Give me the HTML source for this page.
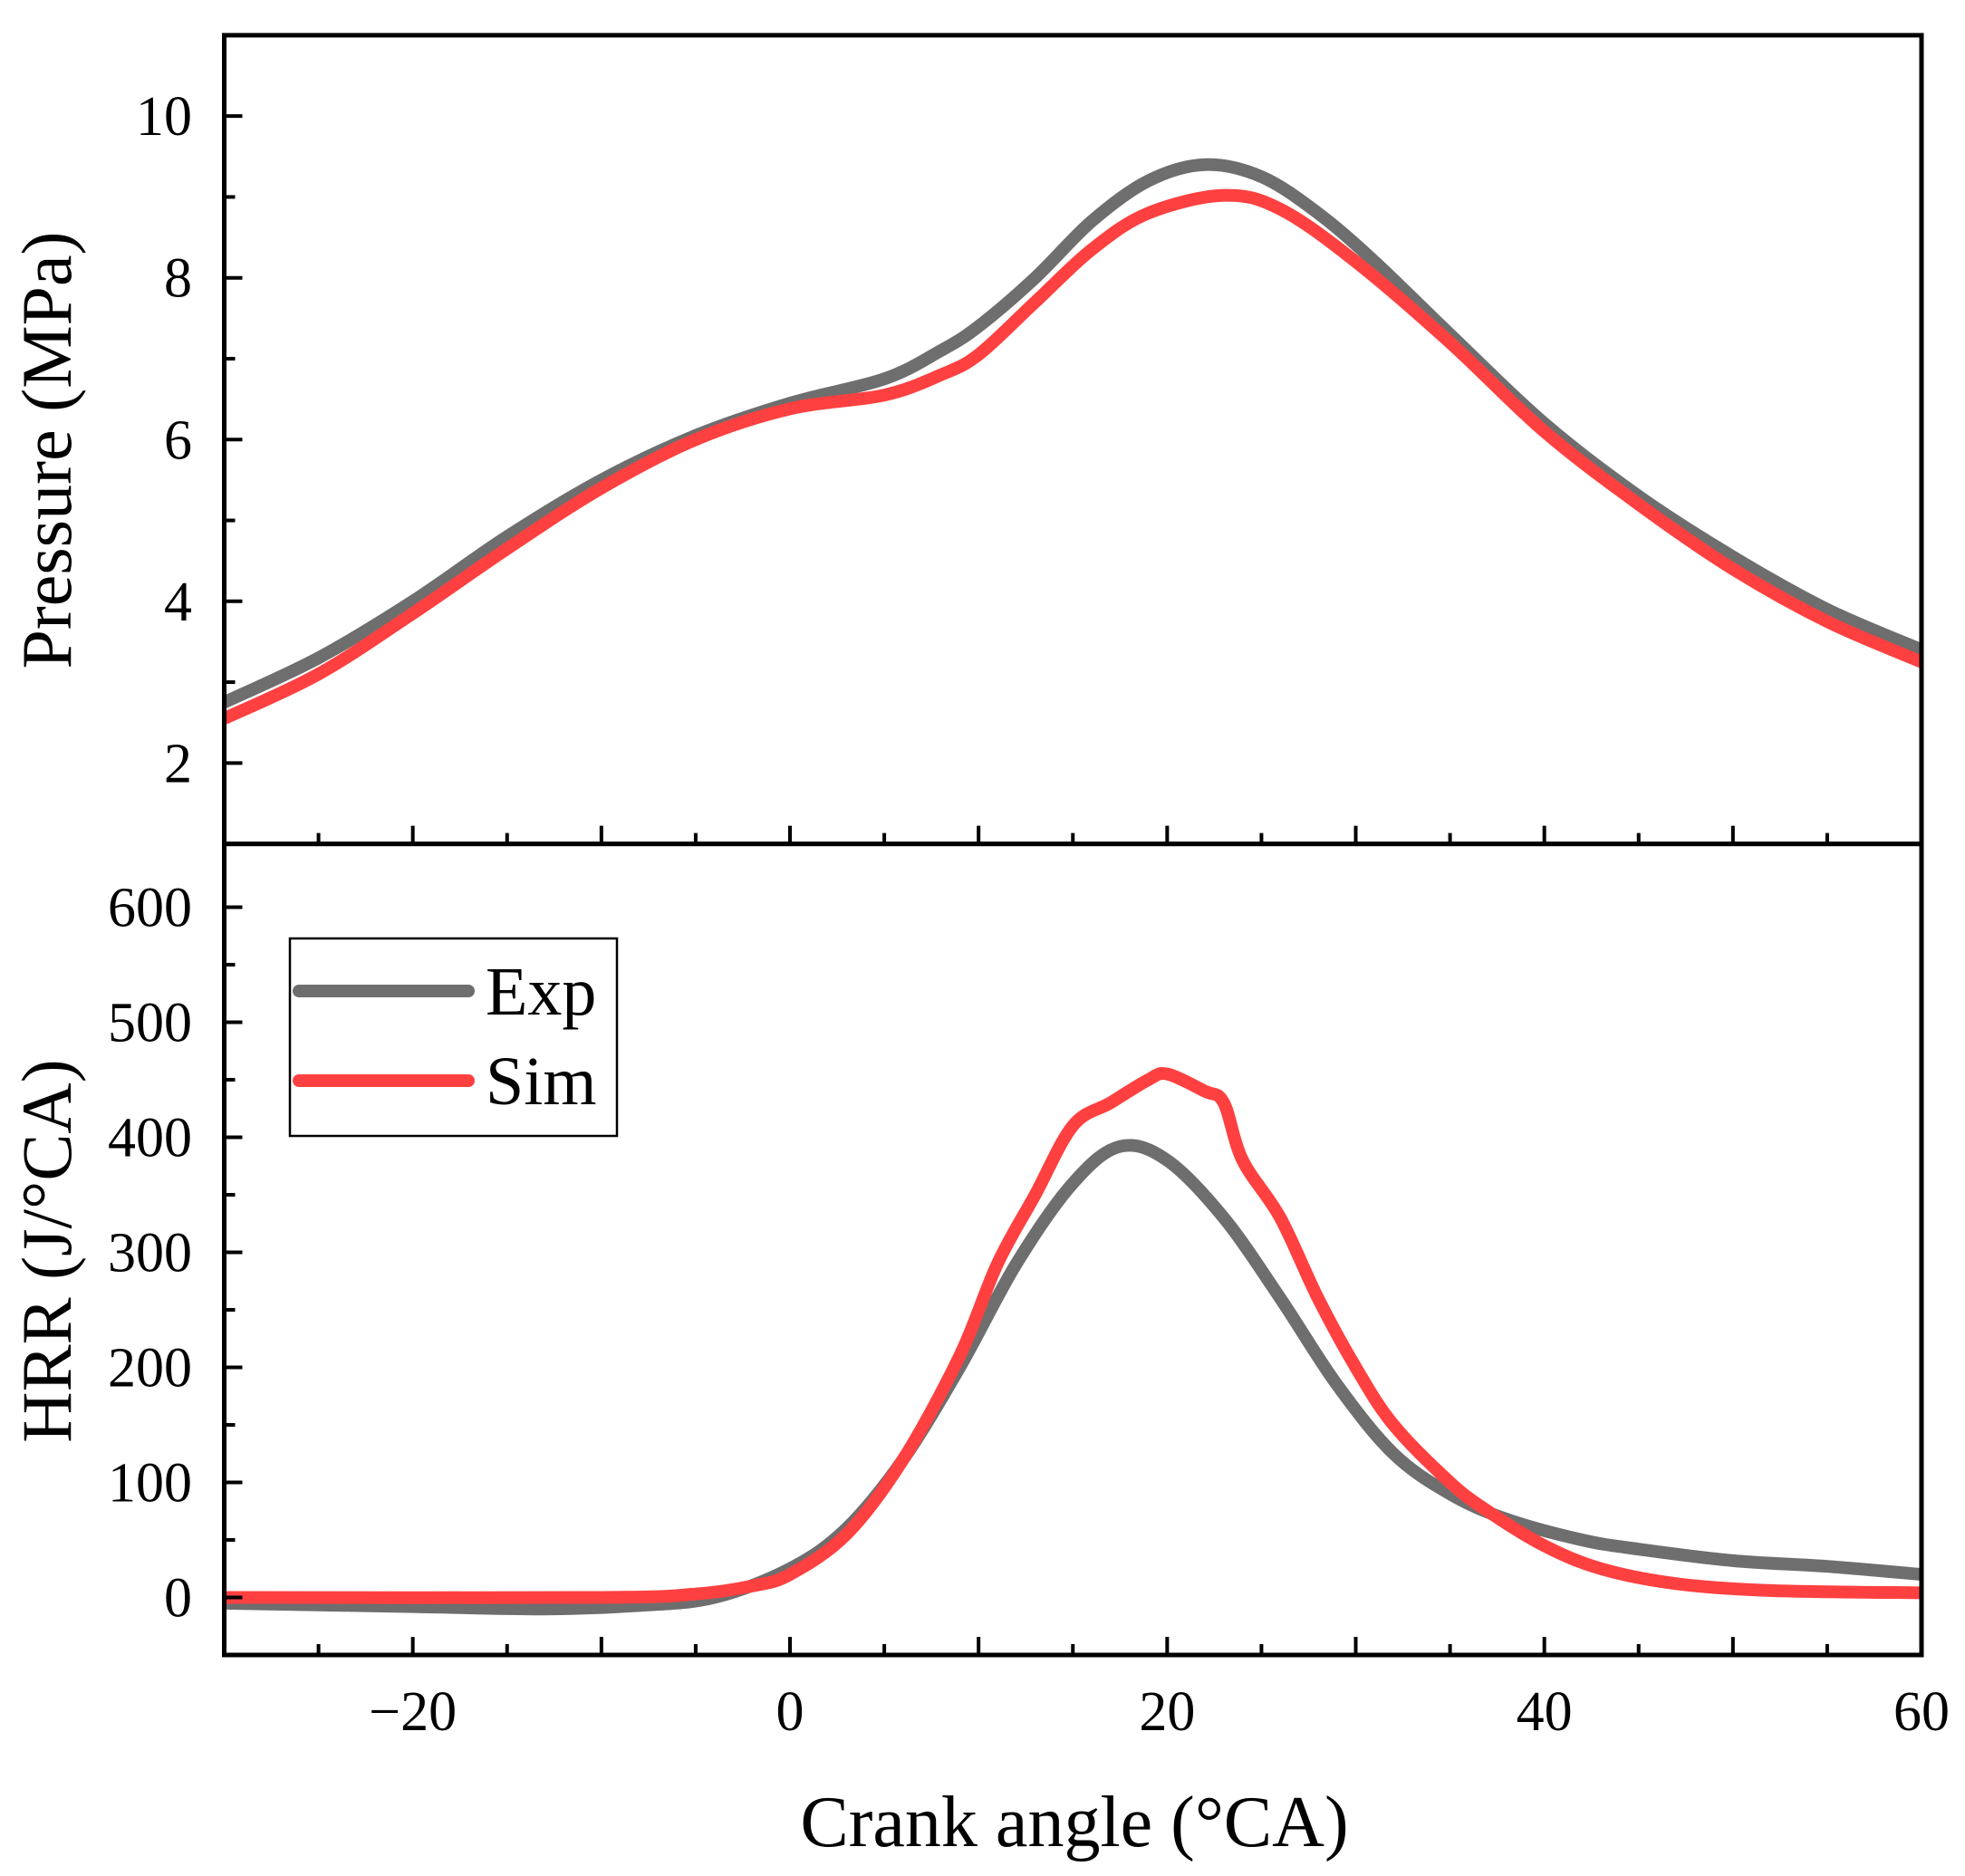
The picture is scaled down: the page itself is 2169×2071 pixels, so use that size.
<!DOCTYPE html>
<html><head><meta charset="utf-8"><style>
html,body{margin:0;padding:0;background:#fff}
svg text{font-family:"Liberation Serif",serif;fill:#000}
</style></head><body>
<svg id="chart" width="2169" height="2066" xmlns="http://www.w3.org/2000/svg"></svg>
<script>
const xTickValues=[-20,0,20,40,60];
const pTickValues=[2,4,6,8,10];
const hTickValues=[0,100,200,300,400,500,600];
const pExpX=[-30,-25,-20,-15,-10,-5,0,5,8,10,13,16,19,22,25,28,31,35,40,45,50,55,60];
const pExpY=[2.75,3.3,4.0,4.8,5.5,6.05,6.45,6.75,7.1,7.4,8.0,8.7,9.2,9.4,9.25,8.8,8.2,7.3,6.2,5.3,4.55,3.9,3.4];
const pSimX=[-30,-25,-20,-15,-10,-5,0,5,8,10,13,16,19,23,26,30,35,40,45,50,55,60];
const pSimY=[2.55,3.1,3.85,4.65,5.4,6.0,6.38,6.55,6.8,7.05,7.7,8.35,8.8,9.02,8.85,8.2,7.2,6.1,5.2,4.4,3.75,3.25];
const hExpX=[-30,-20,-13,-8,-4,0,3,6,9,12,15,17.5,20,23,26,29,32,35,38,42,45,50,55,60];
const hExpY=[-5,-8,-10,-7,0,25,60,120,200,290,360,392,380,330,260,185,125,90,68,50,42,32,27,20];
const hSimX=[-30,-10,-5,-2,0,3,6,9,11,13,15,17,19,20,22,23,24,26,28,30,32,35,37,40,43,47,52,60];
const hSimY=[0,0,3,10,20,55,120,210,290,350,410,430,450,455,440,430,380,330,260,200,150,100,75,45,25,12,6,4];

const NS="http://www.w3.org/2000/svg";
const svg=document.getElementById('chart');
const L=247.5,R=2121,T=38.9,M=931.6,B=1827;
const xs=v=>L+(v+30)/90*(R-L);
const ps=v=>M-(v-1)/10*(M-T);
const hs=v=>B-(v+50)/705*(B-M);
function el(tag,attrs,parent){const e=document.createElementNS(NS,tag);for(const k in attrs)e.setAttribute(k,attrs[k]);(parent||svg).appendChild(e);return e;}
function pathD(X,Y,fx,fy){
  const P=X.map((x,i)=>[fx(x),fy(Y[i])]);let d='M'+P[0][0]+','+P[0][1];
  for(let i=0;i<P.length-1;i++){const p0=P[Math.max(0,i-1)],p1=P[i],p2=P[i+1],p3=P[Math.min(P.length-1,i+2)];
    const c1=[p1[0]+(p2[0]-p0[0])/6,p1[1]+(p2[1]-p0[1])/6],c2=[p2[0]-(p3[0]-p1[0])/6,p2[1]-(p3[1]-p1[1])/6];
    d+=' C'+c1+' '+c2+' '+p2;}
  return d;}
const clipT=el('clipPath',{id:'ct'});el('rect',{x:L,y:T,width:R-L,height:M-T},clipT);
const clipB=el('clipPath',{id:'cb'});el('rect',{x:L,y:M,width:R-L,height:B-M},clipB);
let c;
c=el('path',{d:pathD(pExpX,pExpY,xs,ps),fill:'none',stroke:'#6e6e6e','stroke-width':14,'clip-path':'url(#ct)'});

c=el('path',{d:pathD(pSimX,pSimY,xs,ps),fill:'none',stroke:'#ff4040','stroke-width':14,'clip-path':'url(#ct)'});

c=el('path',{d:pathD(hExpX,hExpY,xs,hs),fill:'none',stroke:'#6e6e6e','stroke-width':14,'clip-path':'url(#cb)'});

c=el('path',{d:pathD(hSimX,hSimY,xs,hs),fill:'none',stroke:'#ff4040','stroke-width':14,'clip-path':'url(#cb)'});

c=el('rect',{x:L,y:T,width:R-L,height:M-T,fill:'none',stroke:'#000','stroke-width':5});

c=el('rect',{x:L,y:M,width:R-L,height:B-M,fill:'none',stroke:'#000','stroke-width':5});

for(let v=-25;v<=55;v+=5){const len=(v%10===0)?20:12;
  [M,B].forEach(y=>{const t=el('line',{x1:xs(v),x2:xs(v),y1:y,y2:y-len,stroke:'#000','stroke-width':4});
  });}
xTickValues.forEach(v=>{const t=el('text',{x:xs(v),y:1910,'font-size':62,'text-anchor':'middle'});
  t.textContent=(v<0?'\u2212'+(-v):v);
  });
for(let v=2;v<=10;v+=1){const len=(v%2===0)?20:12;
  const t=el('line',{x1:L,x2:L+len,y1:ps(v),y2:ps(v),stroke:'#000','stroke-width':4});
  }
pTickValues.forEach(v=>{const t=el('text',{x:212,y:ps(v)+21,'font-size':62,'text-anchor':'end'});t.textContent=v;
  });
for(let v=0;v<=600;v+=50){const len=(v%100===0)?20:12;
  const t=el('line',{x1:L,x2:L+len,y1:hs(v),y2:hs(v),stroke:'#000','stroke-width':4});
  }
hTickValues.forEach(v=>{const t=el('text',{x:212,y:hs(v)+21,'font-size':62,'text-anchor':'end'});t.textContent=v;
  });
c=el('text',{x:0,y:0,'font-size':78,'text-anchor':'middle',transform:'translate(78,497) rotate(-90)'});c.textContent='Pressure (MPa)';

c=el('text',{x:0,y:0,'font-size':78,'text-anchor':'middle',transform:'translate(78,1381) rotate(-90)'});c.textContent='HRR (J/\u00B0CA)';

c=el('text',{x:1186,y:2038,'font-size':80,'text-anchor':'middle'});c.textContent='Crank angle (\u00B0CA)';

const lg=el('g',{});
el('rect',{x:320,y:1036,width:361,height:218,fill:'#fff',stroke:'#000','stroke-width':2.5},lg);
c=el('line',{x1:330,x2:517,y1:1094,y2:1094,stroke:'#6e6e6e','stroke-width':14,'stroke-linecap':'round'},lg);

c=el('text',{x:536,y:1120,'font-size':76},lg);c.textContent='Exp';

c=el('line',{x1:330,x2:517,y1:1193,y2:1193,stroke:'#ff4040','stroke-width':14,'stroke-linecap':'round'},lg);

c=el('text',{x:536,y:1219,'font-size':76},lg);c.textContent='Sim';

</script>
</body></html>
